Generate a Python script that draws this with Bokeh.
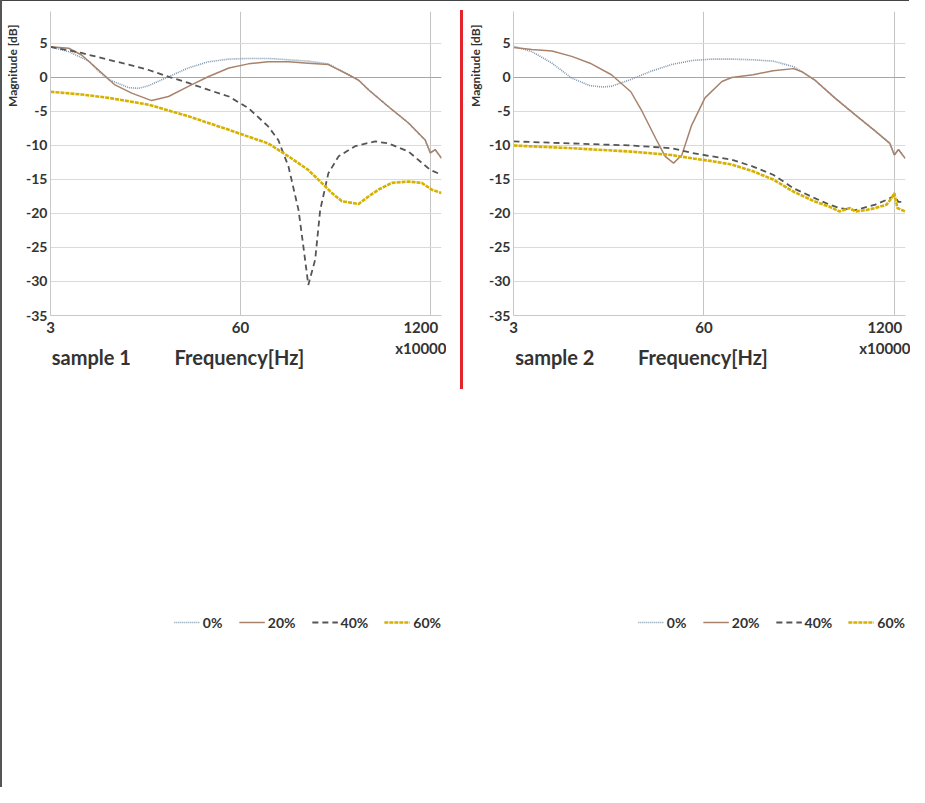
from bokeh.plotting import figure
from bokeh.models import (FixedTicker, Legend, LegendItem, Div, Range1d, Grid,
                          BasicTickFormatter)
from bokeh.layouts import row, column
from bokeh.embed import file_html
from bokeh.resources import INLINE

FONT = "Lato"
TXT = "#333333"
NB = "\u00a0"

# ---------------- data (frequency in x10000 Hz, magnitude in dB) ----------------
x_ticks = [3, 60, 1200]
x_tick_labels = ["3", "60", "1200\nx10000"]
y_ticks = [-35, -30, -25, -20, -15, -10, -5, 0, 5]
y_tick_labels = ["-35", "-30", "-25", "-20", "-15", "-10", "-5", "0", "5"]
series_names = ["0%", "20%", "40%", "60%"]
sample_names = ["sample 1", "sample 2", "sample 3", "sample 4"]

# sample 1
s1_0_f = [3, 4, 5.5, 6.4, 7.5, 10.3, 12, 14.1, 19.3, 26.4, 36, 50, 68, 93, 128, 175, 240, 330, 387, 452, 620, 850, 1105, 1200, 1294, 1430]
s1_0_db = [4.5, 3.8, 2.4, 0.9, -0.3, -1.5, -1.6, -1.2, 0.1, 1.4, 2.3, 2.7, 2.8, 2.8, 2.6, 2.4, 2.0, 0.4, -0.4, -1.8, -4.3, -6.7, -9.2, -11.1, -10.6, -11.9]
s1_20_f = [3, 4, 4.9, 6.4, 8.3, 10.8, 14.8, 19.3, 26.4, 36, 50, 68, 93, 128, 175, 240, 330, 387, 452, 620, 850, 1105, 1200, 1294, 1430]
s1_20_db = [4.5, 4.3, 3.3, 1.1, -1.1, -2.3, -3.4, -2.8, -1.3, 0.1, 1.4, 2.0, 2.3, 2.3, 2.1, 1.9, 0.4, -0.4, -1.8, -4.3, -6.7, -9.2, -11.1, -10.6, -11.9]
s1_40_f = [3, 4.9, 7.5, 10.3, 14.1, 19.3, 26.4, 36, 50, 68, 93, 109, 128, 150, 162, 175, 195, 211, 240, 282, 366, 502, 620, 850, 1200, 1430]
s1_40_db = [4.5, 3.6, 2.6, 1.9, 1.1, 0.1, -0.8, -1.8, -2.8, -4.5, -7.2, -9.2, -13.1, -19.5, -24.9, -30.5, -26.8, -19.5, -14.1, -11.6, -10.1, -9.4, -9.7, -10.9, -13.6, -14.3]
s1_60_f = [3, 4.9, 7.5, 14.1, 26.4, 50, 68, 93, 128, 175, 216, 254, 297, 387, 452, 529, 654, 850, 1047, 1228, 1430]
s1_60_db = [-2.1, -2.5, -3.0, -4.0, -5.7, -7.7, -8.7, -9.7, -11.6, -13.6, -15.5, -17.0, -18.2, -18.6, -17.5, -16.5, -15.5, -15.3, -15.5, -16.5, -17.0]

# sample 2
s2_0_f = [3, 4, 5.5, 7.5, 10, 12.2, 14, 19, 26, 36, 50, 68, 93, 130, 178, 246, 340, 470, 649, 890, 1118, 1200, 1280, 1423]
s2_0_db = [4.6, 3.8, 2.1, -0.1, -1.2, -1.4, -1.3, -0.3, 0.9, 1.9, 2.5, 2.7, 2.7, 2.6, 2.4, 1.6, -0.3, -3.0, -5.5, -7.9, -9.7, -11.4, -10.6, -11.9]
s2_20_f = [3, 4, 5.5, 7.5, 10, 14, 19, 22.7, 28, 32.6, 37.2, 42.4, 49.5, 61, 79.6, 93, 130, 178, 246, 283, 340, 470, 649, 890, 1118, 1200, 1280, 1423]
s2_20_db = [4.4, 4.1, 3.9, 3.1, 2.1, 0.4, -2.1, -5.0, -8.9, -11.6, -12.6, -11.4, -7.0, -3.0, -0.6, 0.0, 0.4, 1.0, 1.3, 0.8, -0.3, -3.0, -5.5, -7.9, -9.7, -11.4, -10.6, -11.9]
s2_40_f = [3, 7.5, 19, 36, 50, 68, 93, 130, 178, 246, 340, 432, 506, 649, 890, 1062, 1200, 1280, 1423]
s2_40_db = [-9.4, -9.7, -10.0, -10.4, -11.1, -11.6, -12.1, -13.1, -14.3, -16.3, -17.7, -18.7, -19.2, -19.5, -18.7, -18.0, -17.4, -18.3, -18.3]
s2_60_f = [3, 7.5, 19, 36, 50, 68, 93, 130, 178, 246, 340, 432, 506, 593, 649, 773, 890, 1062, 1151, 1200, 1259, 1423]
s2_60_db = [-10.0, -10.4, -10.9, -11.4, -11.9, -12.3, -12.8, -13.8, -15.0, -16.8, -18.2, -19.0, -19.7, -19.2, -19.7, -19.5, -19.2, -18.7, -17.7, -17.0, -19.2, -19.7]

# sample 3
s3_0_f = [3, 4, 5.5, 7.5, 10, 14, 16.2, 19, 26, 36, 50, 60, 68, 93, 128, 175, 240, 330, 450, 620, 850, 1102, 1200, 1292, 1430]
s3_0_db = [4.7, 4.6, 2.8, 0.6, -1.4, -2.7, -3.0, -2.6, -1.4, -0.4, 0.0, 0.0, -0.2, -0.6, -1.6, -4.5, -7.2, -8.9, -9.8, -10.3, -10.8, -11.1, -9.9, -11.4, -12.1]
s3_20_f = [3, 4, 5.5, 7.5, 10, 14, 19, 26, 30.6, 36, 41.9, 50, 56, 63.9, 71, 77, 83, 93, 108, 128, 175, 240, 330, 450, 620, 850, 1102, 1200, 1292, 1430]
s3_20_db = [4.5, 4.3, 4.0, 3.8, 3.3, 2.1, 1.1, -0.1, -2.1, -4.5, -7.0, -8.9, -12.9, -17.5, -12.9, -9.9, -7.0, -5.0, -3.1, -1.9, -1.1, -0.7, -1.6, -3.6, -5.8, -8.0, -9.9, -11.4, -11.2, -12.1]
s3_40_f = [3, 5.5, 10, 19, 36, 50, 68, 93, 128, 175, 240, 330, 405, 450, 500, 620, 850, 1046, 1200, 1430]
s3_40_db = [-3.2, -3.6, -4.3, -5.3, -6.7, -7.7, -8.7, -9.7, -10.9, -13.3, -16.3, -18.5, -19.7, -19.5, -18.7, -17.3, -15.6, -15.3, -15.8, -16.3]
s3_60_f = [3, 5.5, 10, 19, 36, 50, 68, 93, 128, 175, 240, 330, 405, 500, 620, 723, 850, 1046, 1162, 1200, 1259, 1430]
s3_60_db = [-11.0, -11.1, -11.3, -11.6, -12.1, -12.5, -12.9, -13.4, -14.3, -15.2, -16.5, -18.0, -19.0, -19.7, -19.5, -20.0, -19.7, -19.2, -18.7, -17.8, -20.0, -20.1]

# sample 4
s4_0_f = [3, 4, 5.5, 7.5, 10, 14, 16.7, 19, 26, 36, 50, 60, 68, 93, 128, 175, 240, 330, 450, 620, 850, 1137, 1200, 1264, 1430]
s4_0_db = [4.7, 4.5, 3.3, 1.3, -0.9, -2.6, -3.1, -3.0, -2.1, -0.9, -0.1, 0.0, -0.2, -0.4, -1.1, -3.8, -6.2, -8.0, -9.2, -10.0, -10.5, -11.1, -10.4, -11.9, -12.1]
s4_20_f = [3, 4, 5.5, 7.5, 10, 14, 19, 23, 26, 36, 50, 60, 68, 93, 128, 175, 240, 330, 450, 620, 850, 1137, 1200, 1430]
s4_20_db = [4.7, 4.6, 4.0, 2.5, -0.4, -3.8, -6.5, -7.7, -7.2, -4.0, -0.9, 0.1, 0.6, 1.2, 1.4, 1.4, 0.6, -0.9, -2.6, -5.0, -7.5, -9.9, -11.4, -12.1]
s4_40_f = [3, 4, 5.5, 7.5, 10, 14, 19, 26, 36, 50, 60, 68, 93, 128, 175, 210, 246, 262, 288, 332, 395, 453, 625, 860, 1137, 1200, 1430]
s4_40_db = [2.4, 2.0, 1.7, 1.1, 0.1, -0.9, -1.7, -2.3, -3.1, -4.0, -4.5, -5.0, -6.2, -8.4, -13.3, -19.7, -25.5, -27.5, -24.0, -17.2, -13.8, -12.1, -11.4, -11.9, -13.3, -12.8, -14.0]
s4_60_f = [3, 5.5, 10, 19, 36, 50, 60, 93, 128, 175, 240, 330, 450, 542, 625, 860, 1079, 1167, 1230, 1430]
s4_60_db = [-10.0, -10.1, -10.3, -10.6, -11.1, -11.6, -11.9, -12.6, -13.6, -14.5, -16.0, -17.5, -19.2, -19.7, -19.7, -19.2, -18.7, -17.3, -19.2, -18.9]

# ---------------- styles ----------------
LINE_STYLE = [
    dict(line_color="#7f96ad", line_width=1.6, line_dash="1 1"),
    dict(line_color="#a8836b", line_width=1.5),
    dict(line_color="#555555", line_width=1.8, line_dash="6 4"),
    dict(line_color="#d6b100", line_width=2.6, line_dash="4 1"),
]


def make_panel(idx, curves, y_end, fw, fh):
    p = figure(frame_width=fw, frame_height=fh, x_axis_type="log",
               x_range=Range1d(3, 1430), y_range=Range1d(-35, y_end),
               output_backend="svg", toolbar_location=None)
    p.outline_line_color = None
    p.xaxis.ticker = FixedTicker(ticks=x_ticks)
    p.xaxis.formatter = BasicTickFormatter()
    p.xaxis.major_label_overrides = dict(zip(x_ticks, x_tick_labels))
    p.yaxis.ticker = FixedTicker(ticks=y_ticks)
    p.yaxis.major_label_overrides = dict(zip(y_ticks, y_tick_labels))
    for ax in (p.xaxis, p.yaxis):
        ax.axis_line_color = "#c8c8c8"
        ax.major_tick_line_color = None
        ax.minor_tick_line_color = None
        ax.major_tick_out = 0
        ax.major_tick_in = 0
        ax.minor_tick_out = 0
        ax.major_label_text_font = FONT
        ax.major_label_text_font_style = "bold"
        ax.major_label_text_color = TXT
        ax.axis_label_text_font = FONT
        ax.axis_label_text_font_style = "bold"
        ax.axis_label_text_color = TXT
    p.yaxis.major_label_text_font_size = "14px"
    p.yaxis.major_label_standoff = 3
    p.yaxis.axis_label = NB * 67 + "Magnitude [dB]"
    p.yaxis.axis_label_text_font_size = "12px"
    p.yaxis.axis_label_standoff = 3

    p.xaxis.major_label_text_font_size = "15px"
    p.xaxis.major_label_standoff = 2
    p.xaxis.axis_label = sample_names[idx] + NB * 9 + "Frequency[Hz]" + NB * 28
    p.xaxis.axis_label_text_font_size = "20px"
    p.xaxis.axis_label_standoff = -15

    p.xgrid.grid_line_color = "#c4c4c4"
    p.ygrid.grid_line_color = "#dadada"
    p.add_layout(Grid(dimension=1, ticker=FixedTicker(ticks=[0]), grid_line_color="#a6a6a6",
                      grid_line_width=1.2))

    items = []
    for (f, db), st, name in zip(curves, LINE_STYLE, series_names):
        r = p.line(f, db, **st)
        items.append(LegendItem(label=name, renderers=[r]))
    leg = Legend(items=items, orientation="horizontal",
                 label_text_font=FONT, label_text_font_style="bold",
                 label_text_font_size="14px", label_text_color=TXT,
                 glyph_width=26, label_standoff=3, spacing=16,
                 padding=2, margin=0, border_line_color=None,
                 background_fill_alpha=0)
    p.add_layout(leg, "below")
    return p


def bar(w, h, color):
    return Div(text="", width=w, height=h, margin=(0, 0, 0, 0),
               styles={"background-color": color})


def spacer(w, h):
    return Div(text="", width=w, height=h, margin=(0, 0, 0, 0))


def boxed(p, left, top, trail):
    kids = []
    if left > 0:
        kids.append(spacer(left, 1))
    kids.append(column(spacer(1, top), p, spacing=0))
    kids.append(spacer(trail, 1))
    return row(*kids, spacing=0)


c1 = [(s1_0_f, s1_0_db), (s1_20_f, s1_20_db), (s1_40_f, s1_40_db), (s1_60_f, s1_60_db)]
c2 = [(s2_0_f, s2_0_db), (s2_20_f, s2_20_db), (s2_40_f, s2_40_db), (s2_60_f, s2_60_db)]
c3 = [(s3_0_f, s3_0_db), (s3_20_f, s3_20_db), (s3_40_f, s3_40_db), (s3_60_f, s3_60_db)]
c4 = [(s4_0_f, s4_0_db), (s4_20_f, s4_20_db), (s4_40_f, s4_40_db), (s4_60_f, s4_60_db)]

RED = "#e3242b"
p1 = make_panel(0, c1, 9.7, 391, 304)
p2 = make_panel(1, c2, 9.7, 392, 304)
p3 = make_panel(2, c3, 10.0, 390, 307)
p4 = make_panel(3, c4, 10.0, 391, 307)

top_row = row(boxed(p1, 0, 5, 14),
              column(spacer(3, 9), bar(3, 379, RED), spacing=0),
              boxed(p2, 2, 5, 11), spacing=0)
bottom_row = row(boxed(p3, 1, 8, 14), bar(3, 394, RED), boxed(p4, 3, 8, 11), spacing=0)
right = column(bar(907, 1, "#444444"), top_row, bar(907, 3, RED), bottom_row, spacing=0)
layout = row(bar(2, 787, "#555555"), right, spacing=0)

open("out.html", "w").write(file_html(layout, INLINE))
